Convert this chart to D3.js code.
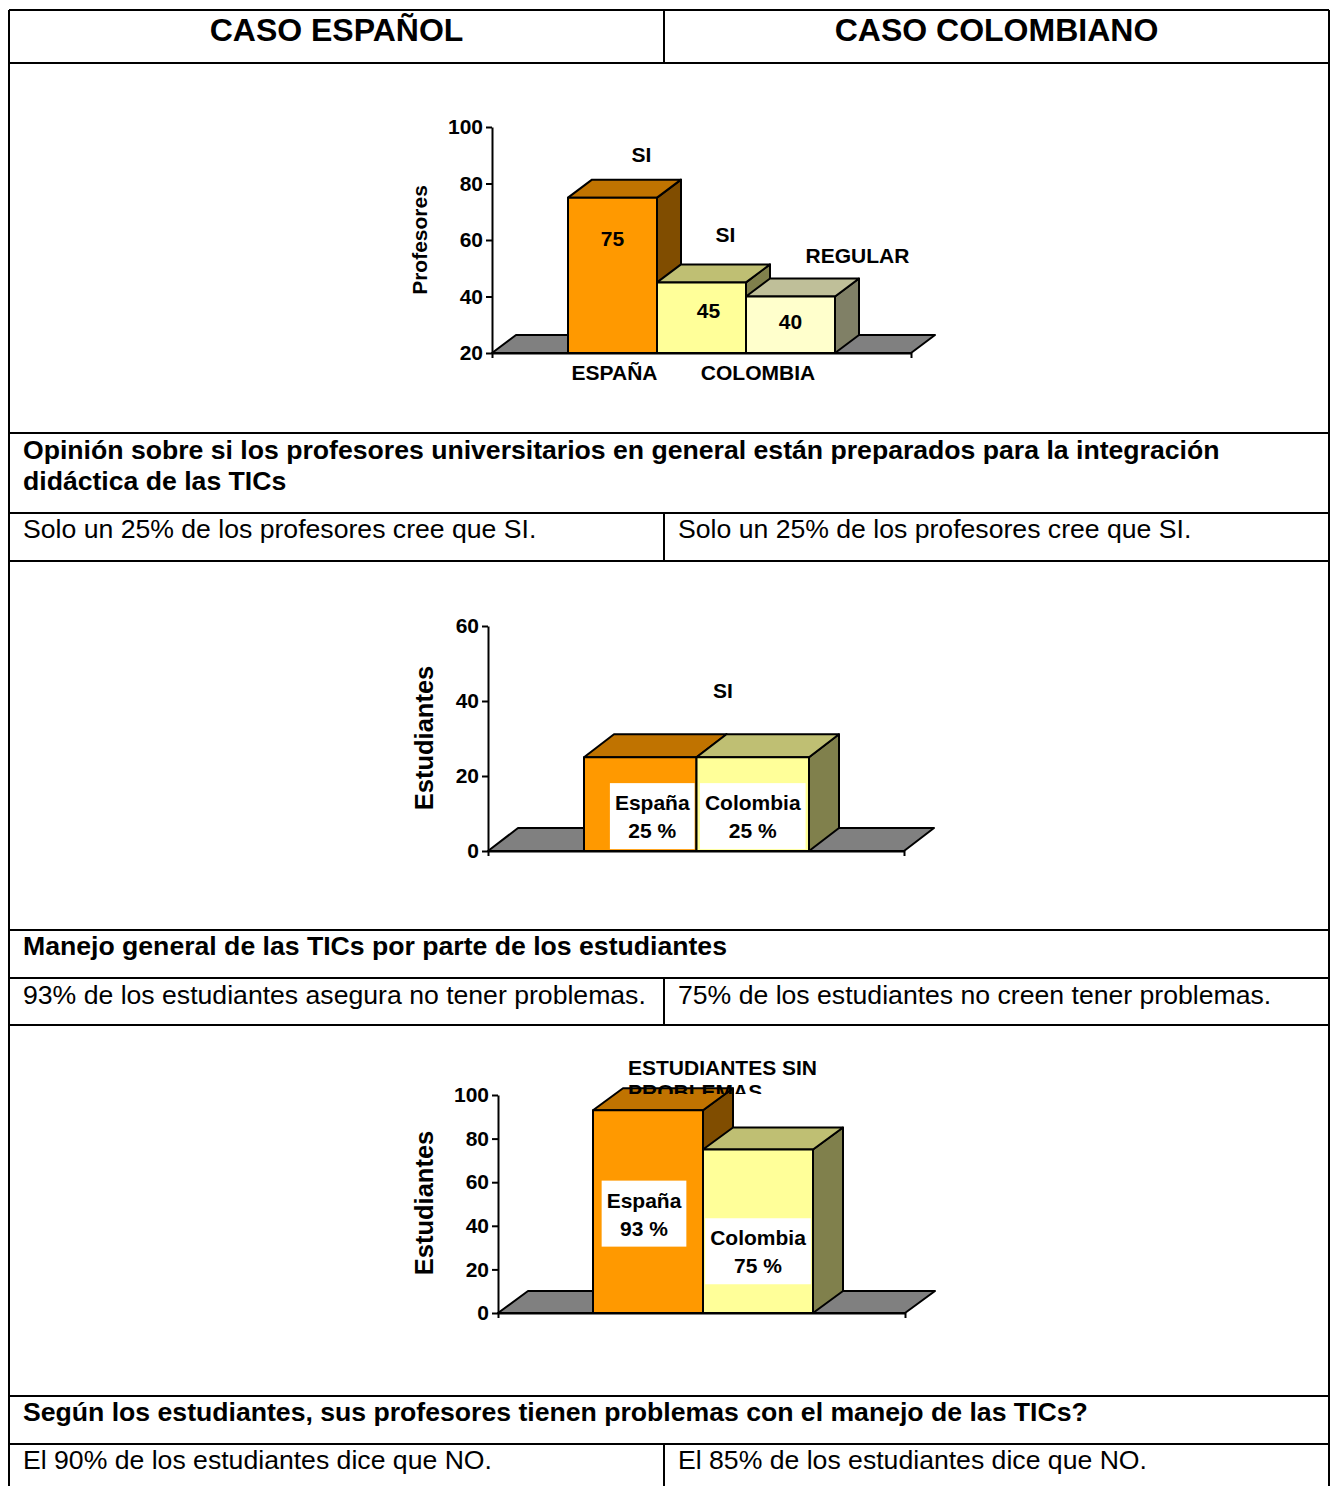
<!DOCTYPE html>
<html>
<head>
<meta charset="utf-8">
<script src="https://cdn.jsdelivr.net/npm/d3@7"></script>
<style>
  html, body { margin: 0; padding: 0; background: #fff; }
  svg text { font-family: "Liberation Sans", Arial, Helvetica, sans-serif; fill: #000; }
</style>
</head>
<body>
<svg id="page" width="1332" height="1486"></svg>
<script>
// ---------- data ----------
const headerTitles = ["CASO ESPAÑOL", "CASO COLOMBIANO"];

// Teachers' opinion chart
const profBarNames = ["SI", "SI", "REGULAR"];
const profBarCountries = ["ESPAÑA", "COLOMBIA", "COLOMBIA"];
const profValues = [75, 45, 40];
const profTicks = [20, 40, 60, 80, 100];

// Students' ICT handling chart
const studentCountries = ["España", "Colombia"];
const skillValues = [25, 25];
const skillTicks = [0, 20, 40, 60];
const skillTitle = ["SI"];

// Students without problems chart
const noProblemValues = [93, 75];
const noProblemTicks = [0, 20, 40, 60, 80, 100];
const noProblemTitle = ["ESTUDIANTES SIN", "PROBLEMAS"];

const captions = [
  ["Opinión sobre si los profesores universitarios en general están preparados para la integración",
   "didáctica de las TICs"],
  ["Manejo general de las TICs por parte de los estudiantes"],
  ["Según los estudiantes, sus profesores tienen problemas con el manejo de las TICs?"]
];
const findingsSpain = [
  "Solo un 25% de los profesores cree que SI.",
  "93% de los estudiantes asegura no tener problemas.",
  "El 90% de los estudiantes dice que NO."
];
const findingsColombia = [
  "Solo un 25% de los profesores cree que SI.",
  "75% de los estudiantes no creen tener problemas.",
  "El 85% de los estudiantes dice que NO."
];

// ---------- styling ----------
const palette = {
  orange: { front: "#FF9900", top: "#C07300", side: "#804D00" },
  yellow: { front: "#FFFF99", top: "#BFBF73", side: "#80804C" },
  cream:  { front: "#FFFFCC", top: "#BFBF99", side: "#808066" }
};
const FONT_BOLD = 700;
const LABEL_SIZE = 21;
const TABLE_SIZE = 25, TABLE_STRETCH = 1.065;

const svg = d3.select("#page");

// ---------- table frame ----------
const tableLeft = 9, tableRight = 1329, colSplit = 664;
const rowLines = [10, 63, 433, 513, 561, 930, 978, 1025, 1396, 1444];
const frame = svg.append("g").attr("stroke", "#000").attr("stroke-width", 2);
rowLines.forEach(yv => frame.append("line")
  .attr("x1", tableLeft).attr("x2", tableRight).attr("y1", yv).attr("y2", yv));
frame.append("line").attr("x1", tableLeft).attr("x2", tableLeft).attr("y1", 10).attr("y2", 1486);
frame.append("line").attr("x1", tableRight).attr("x2", tableRight).attr("y1", 10).attr("y2", 1486);
// split columns of the header and the three finding rows
[[10, 63], [513, 561], [978, 1025], [1444, 1486]].forEach(([a, b]) =>
  frame.append("line").attr("x1", colSplit).attr("x2", colSplit).attr("y1", a).attr("y2", b));

// header
svg.append("g").selectAll("text").data(headerTitles).join("text")
  .attr("x", (d, i) => i === 0 ? (tableLeft + colSplit) / 2 : (colSplit + tableRight) / 2)
  .attr("y", 41)
  .attr("text-anchor", "middle")
  .attr("font-size", 32).attr("font-weight", FONT_BOLD)
  .text(d => d);

// table text, slightly widened like the document's font
function tableText(x, y, t, bold) {
  svg.append("text")
    .attr("transform", `translate(${x},${y}) scale(${TABLE_STRETCH},1)`)
    .attr("font-size", TABLE_SIZE).attr("font-weight", bold ? FONT_BOLD : null)
    .text(t);
}

// captions and findings
const captionBaselines = [[459, 490], [955], [1421]];
const findingBaselines = [538, 1004, 1469];
captions.forEach((lines, k) => {
  lines.forEach((t, j) => tableText(23, captionBaselines[k][j], t, true));
  tableText(23, findingBaselines[k], findingsSpain[k], false);
  tableText(678, findingBaselines[k], findingsColombia[k], false);
});

// ---------- 3D column chart ----------
function drawChart(cfg) {
  const g = svg.append("g");
  const y = d3.scaleLinear().domain(cfg.domain).range([cfg.yBottom, cfg.yTop]);
  const x = d3.scaleBand().domain(d3.range(cfg.values.length))
    .range([cfg.barLeft, cfg.barRight]).padding(0);
  const [dx, dy] = cfg.depth;
  const y0 = y(cfg.domain[0]);
  const line = d3.line();

  // floor
  g.append("path")
    .attr("d", line([[cfg.axisX, y0], [cfg.axisX + dx, y0 + dy],
                     [cfg.floorRight + dx, y0 + dy], [cfg.floorRight, y0]]) + "Z")
    .attr("fill", "#808080").attr("stroke", "#000").attr("stroke-width", 2)
    .attr("stroke-linejoin", "round");

  // columns, drawn left to right so each front covers its neighbour's side
  cfg.values.forEach((v, i) => {
    const c = palette[cfg.colors[i]];
    const x0 = x(i), x1 = x0 + x.bandwidth(), yt = y(v);
    const bar = g.append("g").attr("stroke", "#000").attr("stroke-width", 2)
      .attr("stroke-linejoin", "round");
    bar.append("path").attr("fill", c.side)
      .attr("d", line([[x1, yt], [x1 + dx, yt + dy], [x1 + dx, y0 + dy], [x1, y0]]) + "Z");
    bar.append("path").attr("fill", c.top)
      .attr("d", line([[x0, yt], [x0 + dx, yt + dy], [x1 + dx, yt + dy], [x1, yt]]) + "Z");
    bar.append("rect").attr("fill", c.front)
      .attr("x", x0).attr("y", yt).attr("width", x1 - x0).attr("height", y0 - yt);
  });

  // y axis
  const ya = g.append("g").attr("transform", `translate(${cfg.axisX},0)`)
    .call(d3.axisLeft(y).tickValues(cfg.ticks).tickSize(6).tickSizeOuter(0));
  ya.attr("font-family", null);
  ya.select(".domain").attr("stroke-width", 2);
  ya.selectAll(".tick line").attr("stroke-width", 2);
  ya.selectAll(".tick text").attr("font-size", LABEL_SIZE).attr("font-weight", FONT_BOLD)
    .attr("fill", "#000");

  // baseline with end ticks
  const xa = g.append("g").attr("transform", `translate(0,${y0})`)
    .call(d3.axisBottom(d3.scaleLinear().domain([0, 1]).range([cfg.axisX, cfg.floorRight]))
      .tickValues([0, 1]).tickFormat("").tickSize(5).tickSizeOuter(0));
  xa.select(".domain").attr("stroke-width", 2);
  xa.selectAll(".tick line").attr("stroke-width", 2);

  // y axis title
  g.append("text")
    .attr("transform", `translate(${cfg.yTitle.x},${cfg.yTitle.y}) rotate(-90)`)
    .attr("text-anchor", "middle")
    .attr("font-size", cfg.yTitle.size).attr("font-weight", FONT_BOLD)
    .text(cfg.yTitle.text);

  return { g, x, y, y0 };
}

// ---------- chart 1: teachers ----------
{
  const c = drawChart({
    values: profValues, colors: ["orange", "yellow", "cream"],
    domain: [20, 100], ticks: profTicks, yBottom: 353, yTop: 127,
    axisX: 492, floorRight: 911, barLeft: 568, barRight: 835, depth: [24, -18],
    yTitle: { text: "Profesores", x: 427, y: 240, size: 21 }
  });
  const nameNudge = [[29, -36], [24, -40], [67, -34]];
  const valueNudge = [[0, 48], [7, 36], [0, 32]];
  profValues.forEach((v, i) => {
    const cx = c.x(i) + c.x.bandwidth() / 2, ty = c.y(v);
    c.g.append("text").attr("x", cx + nameNudge[i][0]).attr("y", ty + nameNudge[i][1])
      .attr("text-anchor", "middle").attr("font-size", LABEL_SIZE).attr("font-weight", FONT_BOLD)
      .text(profBarNames[i]);
    c.g.append("text").attr("x", cx + valueNudge[i][0]).attr("y", ty + valueNudge[i][1])
      .attr("text-anchor", "middle").attr("font-size", LABEL_SIZE).attr("font-weight", FONT_BOLD)
      .text(v);
  });
  // country labels under their group of columns
  const groups = d3.groups(d3.range(profValues.length), i => profBarCountries[i]);
  const catNudge = { "ESPAÑA": 2, "COLOMBIA": 12 };
  groups.forEach(([name, idx]) => {
    const cx = d3.mean(idx, i => c.x(i) + c.x.bandwidth() / 2);
    c.g.append("text").attr("x", cx + catNudge[name]).attr("y", 380)
      .attr("text-anchor", "middle").attr("font-size", LABEL_SIZE).attr("font-weight", FONT_BOLD)
      .text(name);
  });
}

// white data-label boxes inside the columns
function boxedLabels(c, values, nudges) {
  values.forEach((v, i) => {
    const cx = c.x(i) + c.x.bandwidth() / 2 + nudges[i][0];
    const cy = (c.y(v) + c.y0) / 2 + nudges[i][1];
    const lg = c.g.append("g");
    const rect = lg.append("rect").attr("fill", "#fff");
    const lines = [studentCountries[i], v + " %"];
    const texts = lines.map((t, j) => lg.append("text")
      .attr("x", cx).attr("y", cy - 33 + 27 + j * 28)
      .attr("text-anchor", "middle").attr("font-size", LABEL_SIZE).attr("font-weight", FONT_BOLD)
      .text(t));
    const w = d3.max(texts, t => t.node().getComputedTextLength()) + 10;
    rect.attr("x", cx - w / 2).attr("y", cy - 33).attr("width", w).attr("height", 66);
  });
}

// ---------- chart 2: students' ICT handling ----------
{
  const c = drawChart({
    values: skillValues, colors: ["orange", "yellow"],
    domain: [0, 60], ticks: skillTicks, yBottom: 851, yTop: 626,
    axisX: 488, floorRight: 904, barLeft: 584, barRight: 809, depth: [30, -23],
    yTitle: { text: "Estudiantes", x: 433, y: 738, size: 25.5 }
  });
  boxedLabels(c, skillValues, [[12, 12], [0, 12]]);
  c.g.append("text").attr("x", 723).attr("y", 698).attr("text-anchor", "middle")
    .attr("font-size", LABEL_SIZE).attr("font-weight", FONT_BOLD).text(skillTitle[0]);
}

// ---------- chart 3: students without problems ----------
{
  const c = drawChart({
    values: noProblemValues, colors: ["orange", "yellow"],
    domain: [0, 100], ticks: noProblemTicks, yBottom: 1313, yTop: 1095,
    axisX: 498, floorRight: 905, barLeft: 593, barRight: 813, depth: [30, -22],
    yTitle: { text: "Estudiantes", x: 433, y: 1203, size: 25.5 }
  });
  boxedLabels(c, noProblemValues, [[-4, 2], [0, 20]]);
  // chart title; its second line is cut off at the plot area's top edge
  svg.append("clipPath").attr("id", "titleClip").append("rect")
    .attr("x", 0).attr("y", 1040).attr("width", 1332).attr("height", 54);
  c.g.append("g").attr("clip-path", "url(#titleClip)")
    .selectAll("text").data(noProblemTitle).join("text")
    .attr("x", 628).attr("y", (d, j) => 1075 + j * 24)
    .attr("font-size", LABEL_SIZE).attr("font-weight", FONT_BOLD).text(d => d);
}
</script>
</body>
</html>
